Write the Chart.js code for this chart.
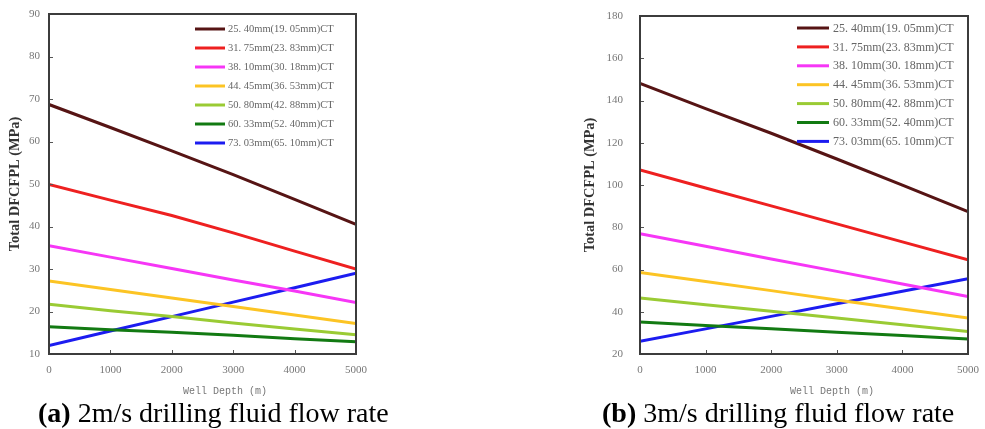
<!DOCTYPE html>
<html>
<head>
<meta charset="utf-8">
<script src="https://cdn.jsdelivr.net/npm/chart.js@4.4.1/dist/chart.umd.min.js"></script>
<style>
  html,body{margin:0;padding:0;background:#fff;}
  #wrap{position:relative;width:985px;height:429px;background:#fff;overflow:hidden;}
  .box{position:absolute;}
  .cap{position:absolute;font-family:"Liberation Serif",serif;font-size:28px;color:#000;white-space:nowrap;line-height:1;}
</style>
</head>
<body>
<div id="wrap">
  <div class="box" style="left:0;top:0;width:400px;height:400px;"><canvas id="ca"></canvas></div>
  <div class="box" style="left:560px;top:0;width:425px;height:400px;"><canvas id="cb"></canvas></div>
  <div class="cap" style="left:38px;top:399px;"><b>(a)</b> 2m/s drilling fluid flow rate</div>
  <div class="cap" style="left:602px;top:399px;"><b>(b)</b> 3m/s drilling fluid flow rate</div>
</div>
<script>
// ---- data ----
const depths = [0, 1000, 2000, 3000, 4000, 5000];
const seriesLabels = [
  "25. 40mm(19. 05mm)CT",
  "31. 75mm(23. 83mm)CT",
  "38. 10mm(30. 18mm)CT",
  "44. 45mm(36. 53mm)CT",
  "50. 80mm(42. 88mm)CT",
  "60. 33mm(52. 40mm)CT",
  "73. 03mm(65. 10mm)CT"
];
// (a) 2 m/s
const a_2540 = [68.7, 63.3, 57.8, 52.2, 46.4, 40.5];
const a_3175 = [49.9, 46.2, 42.6, 38.5, 34.2, 30.0];
const a_3810 = [35.5, 32.8, 30.1, 27.4, 24.8, 22.1];
const a_4445 = [27.2, 25.2, 23.2, 21.2, 19.2, 17.2];
const a_5080 = [21.7, 20.2, 18.8, 17.3, 15.9, 14.5];
const a_6033 = [16.4, 15.7, 15.1, 14.4, 13.6, 12.9];
const a_7303 = [12.0, 15.4, 18.8, 22.2, 25.6, 29.0];
// (b) 3 m/s
const b_2540 = [148.1, 136.2, 124.5, 112.3, 99.9, 87.4];
const b_3175 = [107.1, 98.6, 90.1, 81.6, 73.1, 64.6];
const b_3810 = [76.9, 71.0, 65.0, 59.1, 53.1, 47.2];
const b_4445 = [58.6, 54.3, 50.0, 45.6, 41.3, 37.0];
const b_5080 = [46.5, 43.3, 40.2, 37.0, 33.9, 30.7];
const b_6033 = [35.1, 33.5, 31.9, 30.3, 28.7, 27.1];
const b_7303 = [26.0, 31.9, 37.8, 43.8, 49.7, 55.6];
const yTitle = "Total DFCFPL (MPa)";
const xTitle = "Well Depth (m)";
const xTicks = [0, 1000, 2000, 3000, 4000, 5000];

// ---- styles ----
const colors = ["#561414", "#ee2020", "#f636f6", "#fcc424", "#9acb34", "#127a12", "#1c1cf0"];

function buildDatasets(arrs) {
  return arrs.map((vals, i) => ({
    label: seriesLabels[i],
    data: depths.map((d, k) => ({x: d, y: vals[k]})),
    borderColor: colors[i],
    backgroundColor: colors[i],
    borderWidth: 3,
    pointRadius: 0,
    tension: 0,
    fill: false
  }));
}

function makePlugin(cfg) {
  return {
    id: 'frameLegend',
    afterDraw(chart) {
      const ctx = chart.ctx;
      const a = chart.chartArea;
      const xs = chart.scales.x, ys = chart.scales.y;
      ctx.save();
      ctx.setLineDash([]);
      // inward ticks
      ctx.strokeStyle = '#555555';
      ctx.lineWidth = 1;
      xs.ticks.forEach(t => {
        const px = Math.round(xs.getPixelForValue(t.value)) + 0.5;
        ctx.beginPath(); ctx.moveTo(px, a.bottom); ctx.lineTo(px, a.bottom - 4); ctx.stroke();
      });
      ys.ticks.forEach(t => {
        const py = Math.round(ys.getPixelForValue(t.value)) + 0.5;
        ctx.beginPath(); ctx.moveTo(a.left, py); ctx.lineTo(a.left + 4, py); ctx.stroke();
      });
      // frame
      ctx.strokeStyle = '#3c3c3c';
      ctx.lineWidth = 2;
      ctx.beginPath();
      ctx.moveTo(a.left, a.top);
      ctx.lineTo(a.right, a.top);
      ctx.lineTo(a.right, a.bottom);
      ctx.lineTo(a.left, a.bottom);
      ctx.closePath();
      ctx.stroke();
      // legend
      ctx.font = cfg.lfs + 'px "Liberation Serif", serif';
      ctx.textBaseline = 'middle';
      ctx.textAlign = 'left';
      chart.data.datasets.forEach((ds, i) => {
        const y = cfg.ly + i * cfg.ldy;
        ctx.strokeStyle = ds.borderColor;
        ctx.lineWidth = 3;
        ctx.beginPath(); ctx.moveTo(cfg.lx, y); ctx.lineTo(cfg.lx + cfg.llen, y); ctx.stroke();
        ctx.fillStyle = '#666666';
        ctx.fillText(ds.label, cfg.lx + cfg.llen + cfg.lgap, y + 0.5);
      });
      // x axis title
      ctx.font = '10px "Liberation Mono", monospace';
      ctx.textAlign = 'center';
      ctx.fillStyle = '#777777';
      ctx.fillText(xTitle, cfg.xtx, cfg.xty);
      ctx.restore();
    }
  };
}

function makeChart(id, arrs, ymin, ymax, ystep, cfg) {
  return new Chart(document.getElementById(id), {
    type: 'line',
    data: {datasets: buildDatasets(arrs)},
    plugins: [makePlugin(cfg)],
    options: {
      responsive: true,
      maintainAspectRatio: false,
      animation: false,
      layout: {padding: {top: cfg.top, right: cfg.right, left: 0, bottom: 0}},
      plugins: {
        legend: {display: false},
        tooltip: {enabled: false}
      },
      scales: {
        x: {
          type: 'linear', min: 0, max: 5000,
          afterBuildTicks: s => { s.ticks = xTicks.map(v => ({value: v})); },
          grid: {display: false, drawTicks: false},
          border: {display: false},
          ticks: {padding: 10, color: '#777', font: {family: '"Liberation Serif", serif', size: 11}, maxRotation: 0,
                  callback: v => String(v)},
          afterFit: s => { s.height = cfg.xh; s.paddingLeft = 0; s.paddingRight = 0; }
        },
        y: {
          min: ymin, max: ymax,
          ticks: {stepSize: ystep, padding: cfg.ypad, color: '#777', font: {family: '"Liberation Serif", serif', size: 11}},
          grid: {display: false, drawTicks: false},
          border: {display: false},
          title: {display: true, text: yTitle, color: '#333', padding: {top: cfg.tpad, bottom: 0},
                  font: {family: '"Liberation Serif", serif', size: 14.4, weight: 'bold'}},
          afterFit: s => { s.width = cfg.yw; s.paddingTop = 0; s.paddingBottom = 0; }
        }
      }
    }
  });
}

makeChart('ca', [a_2540, a_3175, a_3810, a_4445, a_5080, a_6033, a_7303], 10, 90, 10,
  {top: 14, right: 44, xh: 46, yw: 49, ypad: 9, tpad: 6.4, lx: 195, ly: 29, ldy: 19, llen: 30, lgap: 3, lfs: 10.5, xtx: 225, xty: 391});
makeChart('cb', [b_2540, b_3175, b_3810, b_4445, b_5080, b_6033, b_7303], 20, 180, 20,
  {top: 16, right: 17, xh: 46, yw: 80, ypad: 17, tpad: 21.4, lx: 237, ly: 28, ldy: 18.9, llen: 32, lgap: 4, lfs: 12, xtx: 272, xty: 391});
</script>
</body>
</html>
